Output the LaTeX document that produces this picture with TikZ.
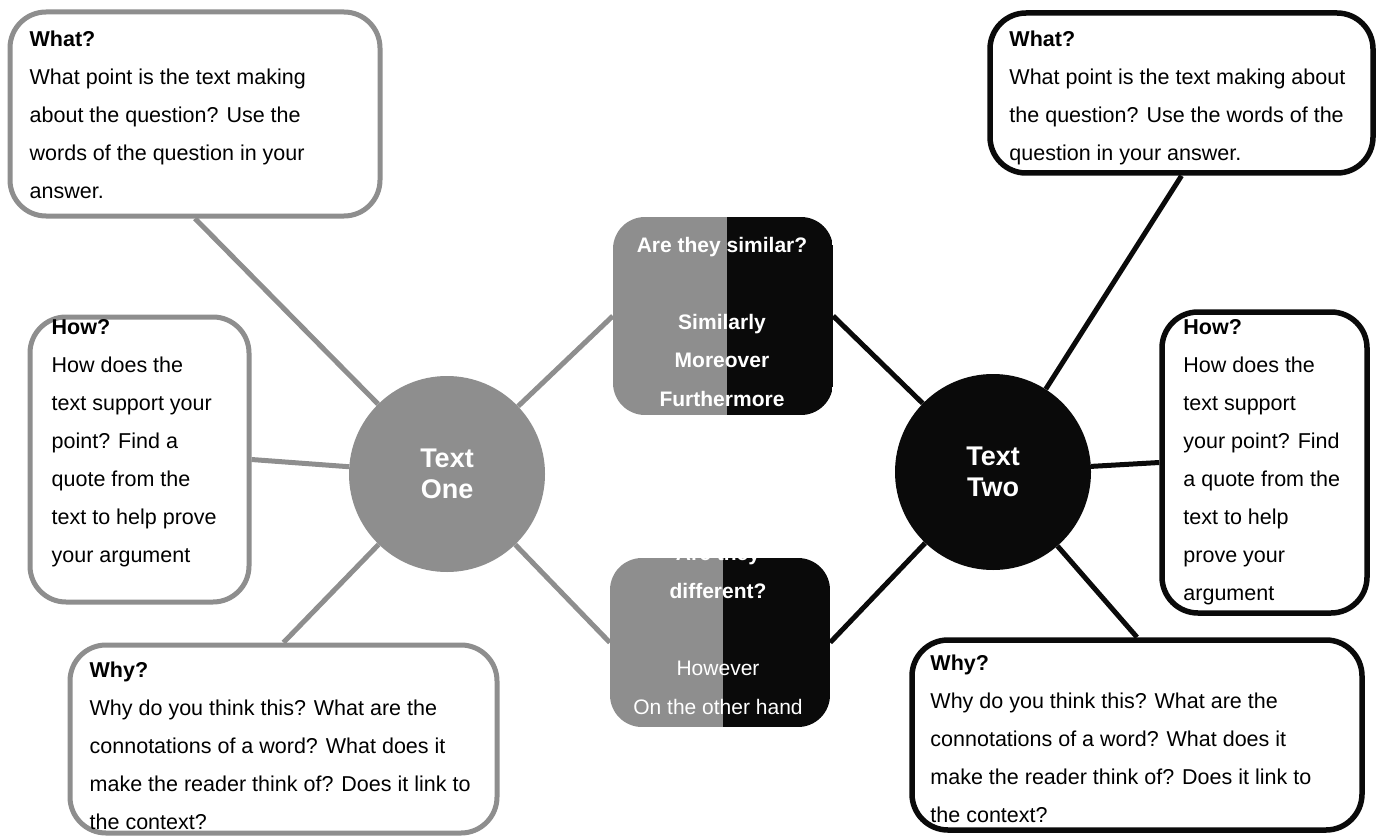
\documentclass[tikz,border=0pt]{standalone}
\usepackage{fontspec}
\setmainfont{Liberation Sans}
\usetikzlibrary{backgrounds}

\definecolor{greyone}{HTML}{8E8E8E}
\definecolor{blacktwo}{HTML}{0A0A0A}

\tikzset{
	onebox/.style={draw=greyone, line width=5pt, rounded corners=36pt, fill=white},
	twobox/.style={draw=blacktwo, line width=5.5pt, rounded corners=36pt, fill=white},
	boxtext/.style={anchor=north west, inner sep=0pt, align=left, text=black,
		font=\fontsize{21.5}{38}\selectfont},
	splitbox/.style={rounded corners=32pt, path picture={
		\fill[greyone, sharp corners] (path picture bounding box.north west) rectangle ([xshift=#1]path picture bounding box.south);
		\fill[blacktwo, sharp corners] ([xshift=#1]path picture bounding box.north) rectangle (path picture bounding box.south east);}},
	linktext/.style={anchor=north, inner sep=0pt, align=center, text=white,
		font=\fontsize{21}{38.5}\selectfont},
	textcircle/.style={circle, minimum size=196pt, inner sep=0pt, align=center, text=white,
		font=\bfseries\fontsize{27}{31}\selectfont},
	oneline/.style={draw=greyone, line width=5pt},
	twoline/.style={draw=blacktwo, line width=5pt}
}

\begin{document}
\begin{tikzpicture}[x=1pt, y=-1pt]
\useasboundingbox (0,0) rectangle (1380,837);

% text one
\node[textcircle, fill=greyone] (one) at (447,474) {Text\\One};
\node[onebox, minimum width=370pt, minimum height=204pt] (what1) at (195,114) {};
\node[boxtext] (what1txt) at ([shift={(22,21)}]what1.north west)
	{\textbf{What?}\\What point is the text making\\about the question? Use the\\words of the question in your\\answer.};
\node[onebox, minimum width=219pt, minimum height=285pt] (how1) at (139.5,459.5) {};
\node[boxtext] (how1txt) at ([shift={(24,5)}]how1.north west)
	{\textbf{How?}\\How does the\\text support your\\point? Find a\\quote from the\\text to help prove\\your argument};
\node[onebox, minimum width=427pt, minimum height=188pt] (why1) at (283.5,739) {};
\node[boxtext] (why1txt) at ([shift={(22,19)}]why1.north west)
	{\textbf{Why?}\\Why do you think this? What are the\\connotations of a word? What does it\\make the reader think of? Does it link to\\the context?};

% text two
\node[textcircle, fill=blacktwo] (two) at (993,472) {Text\\Two};
\node[twobox, minimum width=383pt, minimum height=160pt] (what2) at (1181.5,93) {};
\node[boxtext] (what2txt) at ([shift={(22,20)}]what2.north west)
	{\textbf{What?}\\What point is the text making about\\the question? Use the words of the\\question in your answer.};
\node[twobox, minimum width=205pt, minimum height=301pt] (how2) at (1264.5,462.5) {};
\node[boxtext] (how2txt) at ([shift={(24,10)}]how2.north west)
	{\textbf{How?}\\How does the\\text support\\your point? Find\\a quote from the\\text to help\\prove your\\argument};
\node[twobox, minimum width=450pt, minimum height=190pt] (why2) at (1137,735) {};
\node[boxtext] (why2txt) at ([shift={(21,17)}]why2.north west)
	{\textbf{Why?}\\Why do you think this? What are the\\connotations of a word? What does it\\make the reader think of? Does it link to\\the context?};

% linking words
\node[splitbox=4pt, minimum width=220pt, minimum height=198pt] (sim) at (723,316) {};
\node[linktext] (simtxt) at (722,237)
	{\textbf{Are they similar?}\\ \\\textbf{Similarly}\\\textbf{Moreover}\\\textbf{Furthermore}};
\node[splitbox=3pt, minimum width=220pt, minimum height=169pt] (diff) at (720,642.5) {};
\node[linktext] (difftxt) at (718,545)
	{\textbf{Are they}\\\textbf{different?}\\ \\However\\On the other hand};

\begin{scope}[on background layer]
\draw[oneline] (one) -- (what1.south);
\draw[oneline] (one) -- (how1.east);
\draw[oneline] (one) -- (why1.north);
\draw[oneline] (one) -- (sim.west);
\draw[oneline] (one) -- (diff.west);
\draw[twoline] (two) -- (what2.south);
\draw[twoline] (two) -- (how2.west);
\draw[twoline] (two) -- (why2.north);
\draw[twoline] (two) -- (sim.east);
\draw[twoline] (two) -- (diff.east);
\end{scope}
\end{tikzpicture}
\end{document}
